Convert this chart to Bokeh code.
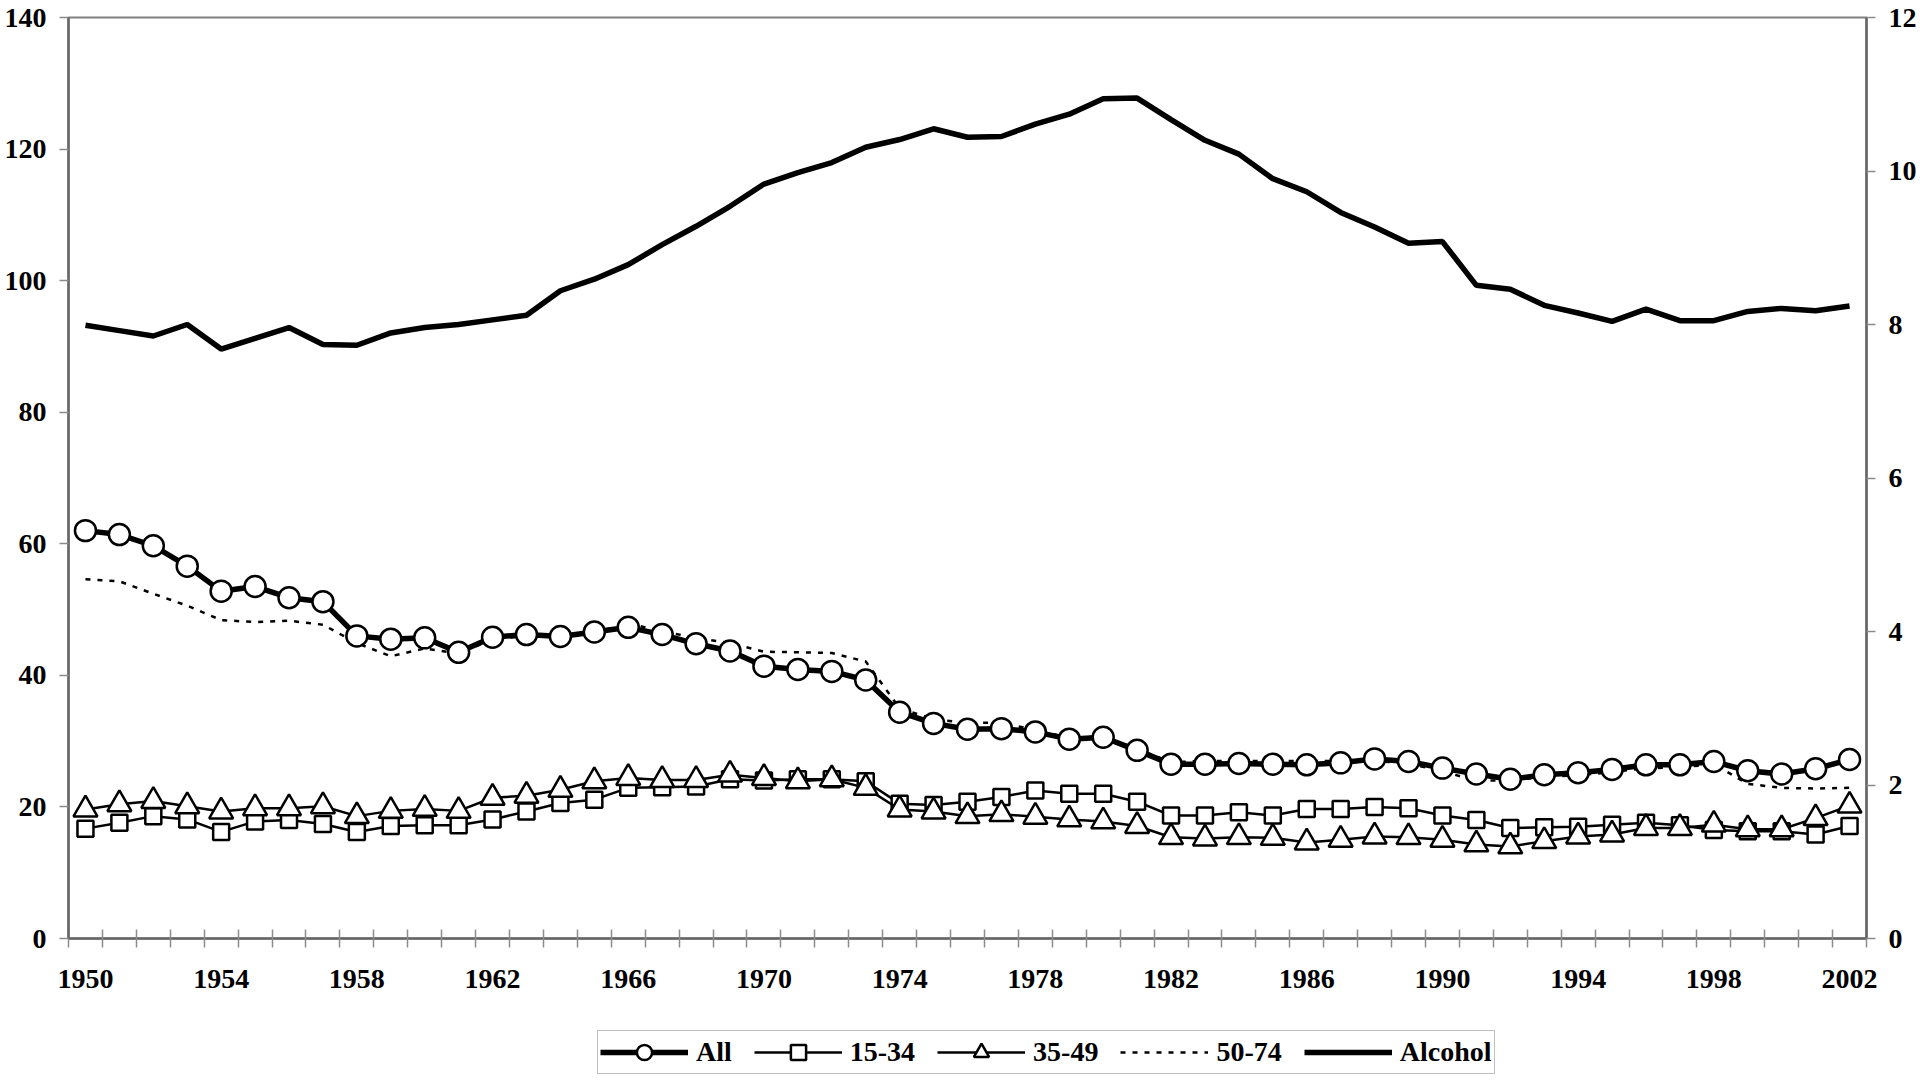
from bokeh.plotting import figure
from bokeh.models import Range1d, LinearAxis, FixedTicker, Legend, LegendItem
from bokeh.layouts import column
from bokeh.embed import file_html
from bokeh.resources import INLINE

# ---- data ----
years = list(range(1950, 2003))
label_years = [1950, 1954, 1958, 1962, 1966, 1970, 1974, 1978, 1982, 1986, 1990, 1994, 1998, 2002]

all_ages = [62.0, 61.4, 59.7, 56.6, 52.8, 53.5, 51.8, 51.2, 46.0, 45.5,
            45.7, 43.5, 45.8, 46.2, 45.9, 46.6, 47.3, 46.2, 44.8, 43.7,
            41.4, 40.9, 40.6, 39.3, 34.4, 32.7, 31.8, 31.9, 31.4, 30.3,
            30.6, 28.6, 26.5, 26.5, 26.6, 26.5, 26.4, 26.7, 27.3, 26.9,
            25.9, 25.0, 24.2, 24.9, 25.2, 25.7, 26.4, 26.4, 26.9, 25.5,
            25.0, 25.8, 27.2]

age_15_34 = [16.7, 17.6, 18.6, 18.1, 16.2, 17.8, 18.0, 17.4, 16.2, 17.1,
             17.2, 17.2, 18.1, 19.3, 20.6, 21.1, 22.9, 23.0, 23.1, 24.2,
             24.0, 24.2, 24.2, 23.9, 20.5, 20.3, 20.8, 21.5, 22.5, 22.0,
             22.0, 20.8, 18.7, 18.7, 19.2, 18.7, 19.7, 19.7, 20.0, 19.8,
             18.7, 18.0, 16.8, 16.9, 17.0, 17.3, 17.6, 17.2, 16.5, 16.3,
             16.3, 15.8, 17.1]

age_35_49 = [19.6, 20.4, 20.9, 20.1, 19.3, 19.8, 19.8, 20.1, 18.6, 19.4,
             19.7, 19.4, 21.4, 21.7, 22.6, 23.9, 24.4, 24.1, 24.1, 24.9,
             24.4, 23.9, 24.2, 22.9, 19.6, 19.3, 18.6, 18.9, 18.5, 18.1,
             17.8, 17.1, 15.4, 15.2, 15.4, 15.3, 14.6, 15.0, 15.5, 15.4,
             15.0, 14.3, 14.0, 14.8, 15.5, 15.8, 16.8, 16.8, 17.3, 16.6,
             16.6, 18.3, 20.2]

age_50_74 = [54.6, 54.3, 52.4, 50.6, 48.4, 48.1, 48.3, 47.7, 44.9, 42.9,
             44.1, 43.3, 45.5, 46.0, 46.0, 46.5, 47.9, 46.7, 45.7, 44.9,
             43.6, 43.5, 43.4, 42.1, 35.0, 33.3, 32.8, 32.8, 31.7, 30.5,
             30.7, 28.8, 26.8, 27.0, 27.0, 27.0, 27.0, 27.0, 27.0, 26.6,
             25.4, 24.0, 24.0, 24.6, 24.8, 25.3, 25.9, 26.0, 26.5, 23.5,
             22.9, 22.8, 22.9]

alcohol = [7.99, 7.92, 7.85, 8.00, 7.68, 7.82, 7.96, 7.74, 7.73, 7.89,
           7.96, 8.00, 8.06, 8.12, 8.44, 8.59, 8.78, 9.04, 9.28, 9.54,
           9.83, 9.98, 10.11, 10.31, 10.41, 10.55, 10.44, 10.45, 10.61, 10.74,
           10.94, 10.95, 10.67, 10.40, 10.22, 9.90, 9.73, 9.46, 9.27, 9.06,
           9.08, 8.51, 8.46, 8.25, 8.15, 8.04, 8.20, 8.05, 8.05, 8.17,
           8.21, 8.18, 8.24]

left_ticks = [0, 20, 40, 60, 80, 100, 120, 140]
right_ticks = [0, 2, 4, 6, 8, 10, 12]
series_labels = ["All", "15-34", "35-49", "50-74", "Alcohol"]

FONT = "Liberation Serif"
AXIS_COLOR = "#666666"

# styles per series
STYLE_ALL = dict(line_color="black", line_width=5.5)
STYLE_THIN = dict(line_color="black", line_width=2.5)
STYLE_DOT = dict(line_color="black", line_width=2.5, line_dash="5 7")
STYLE_ALC = dict(line_color="black", line_width=5.5)
MK = dict(fill_color="white", line_color="black", line_width=2.5)

p = figure(width=1920, height=1010,
           x_range=Range1d(years[0] - 0.5, years[-1] + 0.5),
           y_range=Range1d(0, 140),
           output_backend="svg", toolbar_location=None,
           min_border_left=68, min_border_right=54,
           min_border_top=17, min_border_bottom=72)
p.extra_y_ranges = {"alc": Range1d(0, 12)}
p.xgrid.visible = False
p.ygrid.visible = False
p.outline_line_color = "#808080"
p.outline_line_width = 2
p.background_fill_color = "white"
p.border_fill_color = "white"

def style_axis(ax):
    ax.axis_line_color = AXIS_COLOR
    ax.axis_line_width = 2.5
    ax.major_tick_line_color = "#8c8c8c"
    ax.major_tick_line_width = 1.5
    ax.minor_tick_line_color = "#8c8c8c"
    ax.minor_tick_line_width = 1.5
    ax.major_label_text_font = FONT
    ax.major_label_text_font_style = "bold"
    ax.major_label_text_font_size = "28px"
    ax.major_label_text_color = "black"

# x axis
xa = p.xaxis[0]
xa.ticker = FixedTicker(ticks=label_years,
                        minor_ticks=[y - 0.5 for y in years] + [years[-1] + 0.5])
style_axis(xa)
xa.major_tick_in = 0
xa.major_tick_out = 0
xa.minor_tick_in = 9
xa.minor_tick_out = 9
xa.major_label_standoff = 22

# left y axis
ya = p.yaxis[0]
ya.ticker = FixedTicker(ticks=left_ticks)
style_axis(ya)
ya.major_tick_in = 0
ya.major_tick_out = 9
ya.minor_tick_in = 0
ya.minor_tick_out = 0
ya.major_label_standoff = 13

# right y axis
ra = LinearAxis(y_range_name="alc", ticker=FixedTicker(ticks=right_ticks))
style_axis(ra)
ra.major_tick_in = 0
ra.major_tick_out = 9
ra.minor_tick_in = 0
ra.minor_tick_out = 0
ra.major_label_standoff = 13
p.add_layout(ra, "right")

# series
p.line(years, alcohol, y_range_name="alc", **STYLE_ALC)
p.line(years, age_15_34, **STYLE_THIN)
p.scatter(years, age_15_34, marker="square", size=16, **MK)
p.line(years, age_35_49, **STYLE_THIN)
p.scatter(years, age_35_49, marker="triangle", size=24, **MK)
p.line(years, age_50_74, **STYLE_DOT)
p.line(years, all_ages, **STYLE_ALL)
p.scatter(years, all_ages, marker="circle", size=21, **MK)

# ---- legend strip below the chart ----
# (its renderers hold the same series, but lie outside this strip's ranges,
#  so only their legend glyphs are seen)
q = figure(width=1920, height=72, x_range=Range1d(0, 1), y_range=Range1d(0, 1),
           output_backend="svg", toolbar_location=None,
           x_axis_type=None, y_axis_type=None, min_border=0)
q.xgrid.visible = False
q.ygrid.visible = False
q.outline_line_color = None
q.background_fill_color = "white"
q.border_fill_color = "white"

la = q.line(years, all_ages, **STYLE_ALL)
ma = q.scatter(years, all_ages, marker="circle", size=20, **MK)
l1 = q.line(years, age_15_34, **STYLE_THIN)
m1 = q.scatter(years, age_15_34, marker="square", size=16, **MK)
l2 = q.line(years, age_35_49, **STYLE_THIN)
m2 = q.scatter(years, age_35_49, marker="triangle", size=22, **MK)
l3 = q.line(years, age_50_74, **STYLE_DOT)
l4 = q.line(years, alcohol, **STYLE_ALC)

legend = Legend(items=[
    LegendItem(label=series_labels[0], renderers=[la, ma]),
    LegendItem(label=series_labels[1], renderers=[l1, m1]),
    LegendItem(label=series_labels[2], renderers=[l2, m2]),
    LegendItem(label=series_labels[3], renderers=[l3]),
    LegendItem(label=series_labels[4], renderers=[l4]),
], orientation="horizontal", location=(529, 8),
    glyph_width=88, glyph_height=38, label_standoff=8, spacing=22,
    padding=2, margin=0, label_height=30,
    label_text_font=FONT, label_text_font_style="bold",
    label_text_font_size="28px", label_text_color="black",
    border_line_color="#808080", border_line_width=1.5,
    background_fill_color="white", background_fill_alpha=1.0)
q.add_layout(legend, "center")

layout = column(p, q, spacing=0)
open("out.html", "w").write(file_html(layout, INLINE))
